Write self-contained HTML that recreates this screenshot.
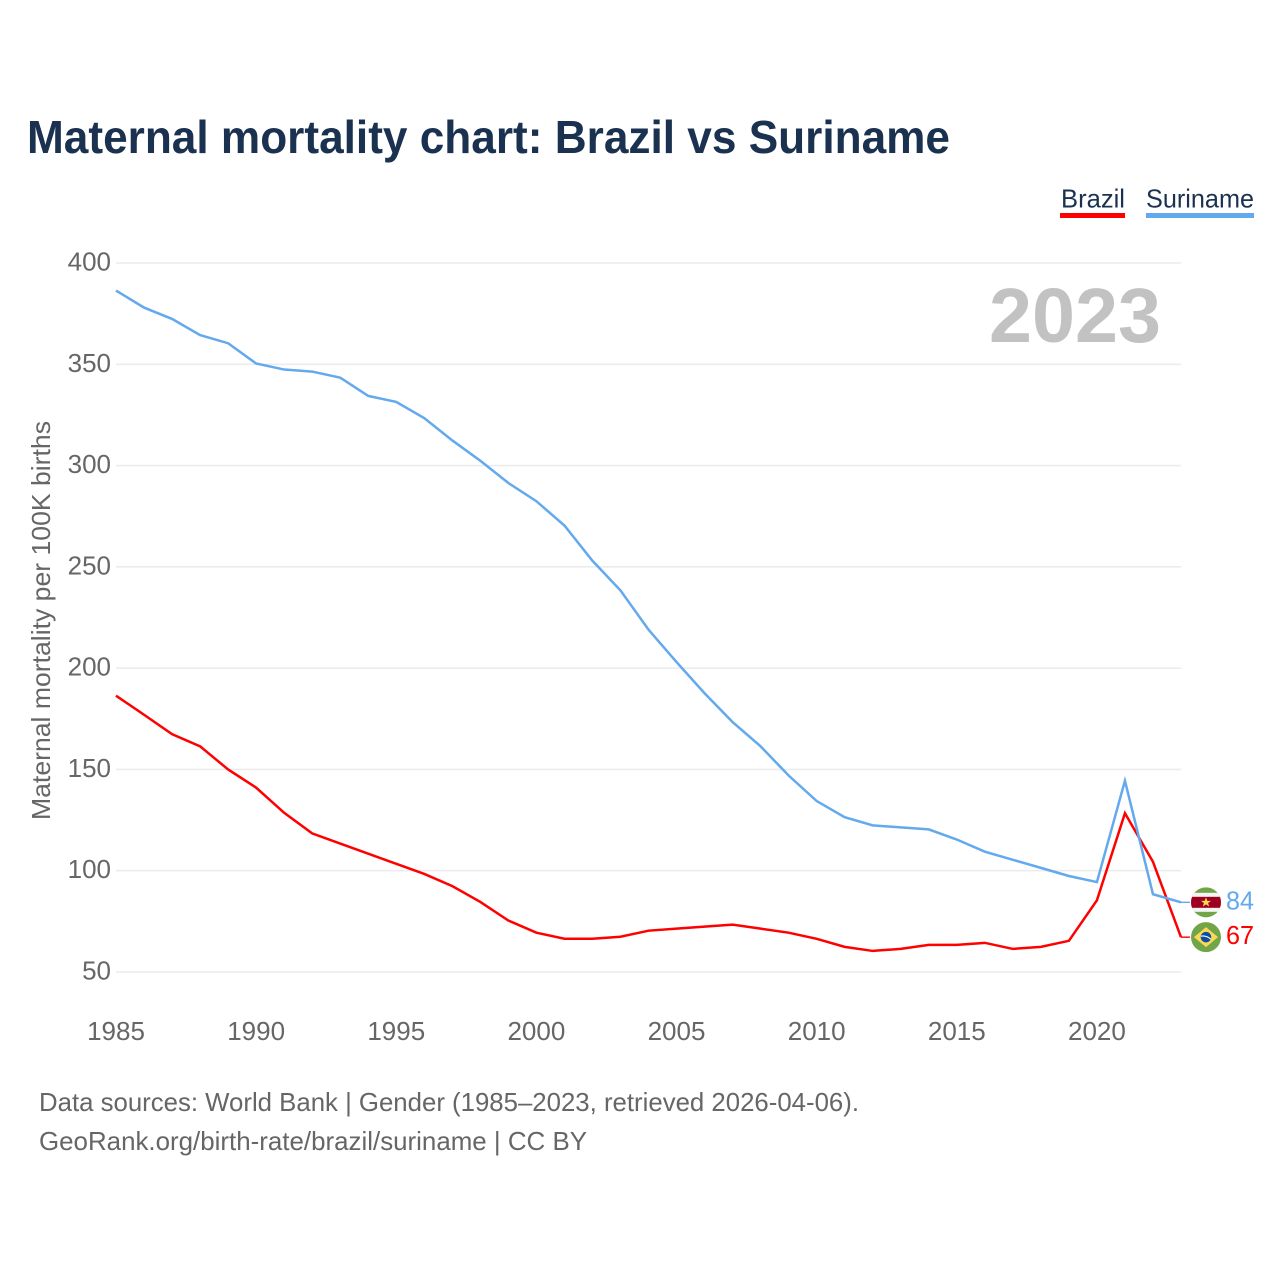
<!DOCTYPE html>
<html lang="en">
<head>
<meta charset="utf-8">
<title>Maternal mortality chart: Brazil vs Suriname</title>
<style>
html,body{margin:0;padding:0;background:#fff;}
svg{display:block;}
text{font-family:"Liberation Sans",sans-serif;}
</style>
</head>
<body>
<svg id="chart" xmlns="http://www.w3.org/2000/svg" width="1280" height="1280" viewBox="0 0 1280 1280">
  <rect x="0" y="0" width="1280" height="1280" fill="#ffffff"/>
  <text x="27" y="153" font-size="46" font-weight="700" fill="#1a3150" textLength="923" lengthAdjust="spacingAndGlyphs">Maternal mortality chart: Brazil vs Suriname</text>

  <g>
    <text x="1061" y="207.5" font-size="26" fill="#1a3150" textLength="64" lengthAdjust="spacingAndGlyphs">Brazil</text>
    <rect x="1060" y="213" width="65" height="5" fill="#ff0000"/>
  </g>
  <g>
    <text x="1146" y="207.5" font-size="26" fill="#1a3150" textLength="108" lengthAdjust="spacingAndGlyphs">Suriname</text>
    <rect x="1146" y="213" width="108" height="5" fill="#63a9ee"/>
  </g>

  <g id="grid"></g>
  <g id="yticks"></g>
  <g id="xticks"></g>

  <text transform="translate(50 820) rotate(-90)" font-size="26" fill="#666666" textLength="399" lengthAdjust="spacingAndGlyphs">Maternal mortality per 100K births</text>
  <text x="989" y="342" font-size="77" font-weight="700" fill="#c2c2c2" textLength="172" lengthAdjust="spacingAndGlyphs">2023</text>

  <g id="series"></g>

  <defs>
    <clipPath id="flag-clip"><circle cx="0" cy="0" r="15"/></clipPath>
  </defs>
  <g id="flag-suriname" clip-path="url(#flag-clip)">
    <rect x="-16" y="-16" width="32" height="32" fill="#72a548"/>
    <rect x="-16" y="-9.5" width="32" height="19" fill="#f4f4f4"/>
    <rect x="-16" y="-5.5" width="32" height="11" fill="#a00020"/>
    <polygon points="0,-5 1.3,-1.5 5,-1.5 2.1,0.7 3.1,4.2 0,2.1 -3.1,4.2 -2.1,0.7 -5,-1.5 -1.3,-1.5" fill="#fcd955"/>
  </g>
  <g id="flag-brazil" clip-path="url(#flag-clip)">
    <rect x="-16" y="-16" width="32" height="32" fill="#72a548"/>
    <polygon points="0,-10 12,0 0,10 -12,0" fill="#fcd955"/>
    <circle cx="0" cy="0" r="5.3" fill="#0b4ea2"/>
    <path d="M-5,-1 Q0,-2 5,2" stroke="#ffffff" stroke-width="1.2" fill="none"/>
  </g>
  <text id="value-suriname" x="1226" font-size="26" fill="#63a9ee" textLength="28" lengthAdjust="spacingAndGlyphs"></text>
  <text id="value-brazil" x="1226" font-size="26" fill="#ff0000" textLength="28" lengthAdjust="spacingAndGlyphs"></text>

  <text x="39" y="1111" font-size="26" fill="#666666" textLength="820" lengthAdjust="spacingAndGlyphs">Data sources: World Bank | Gender (1985–2023, retrieved 2026-04-06).</text>
  <text x="39" y="1150" font-size="26" fill="#666666" textLength="548" lengthAdjust="spacingAndGlyphs">GeoRank.org/birth-rate/brazil/suriname | CC BY</text>
</svg>
<script>
const years = [1985,1986,1987,1988,1989,1990,1991,1992,1993,1994,1995,1996,1997,1998,1999,2000,2001,2002,2003,2004,2005,2006,2007,2008,2009,2010,2011,2012,2013,2014,2015,2016,2017,2018,2019,2020,2021,2022,2023];
const suriname = [386.4,378,372.4,364.4,360.4,350.4,347.4,346.4,343.4,334.4,331.4,323.4,312.4,302.4,291.4,282.4,270.4,253,238.4,219,203,187.6,173.4,161.4,147,134.4,126.4,122.4,121.4,120.4,115.4,109.4,105.4,101.4,97.4,94.4,144.4,88.4,84.4];
const brazil = [186.4,177,167.4,161.4,150,141,128.6,118.4,113.4,108.4,103.4,98.4,92.4,84.6,75.4,69.4,66.4,66.4,67.4,70.4,71.4,72.4,73.4,71.4,69.4,66.4,62.4,60.4,61.4,63.4,63.4,64.4,61.4,62.4,65.4,85.4,128.4,104.4,67.2];
const yTicks = [50,100,150,200,250,300,350,400];
const xTicks = [1985,1990,1995,2000,2005,2010,2015,2020];

const SVG_NS = 'http://www.w3.org/2000/svg';
function xScale(year){ return 116 + (year - 1985) * (1181 - 116) / (2023 - 1985); }
function yScale(v){ return 263 + (400 - v) * (972 - 263) / (400 - 50); }

const gridGroup = document.getElementById('grid');
const yGroup = document.getElementById('yticks');
yTicks.forEach(function(v){
  const line = document.createElementNS(SVG_NS, 'line');
  
  
  line.setAttribute('x1', 116);
  line.setAttribute('x2', 1181);
  line.setAttribute('y1', yScale(v));
  line.setAttribute('y2', yScale(v));
  line.setAttribute('stroke', '#ececec');
  line.setAttribute('stroke-width', '1.6');
  gridGroup.appendChild(line);

  const label = document.createElementNS(SVG_NS, 'text');
  
  
  label.setAttribute('x', 111);
  label.setAttribute('y', yScale(v) + 7.5);
  label.setAttribute('text-anchor', 'end');
  label.setAttribute('font-size', '26');
  label.setAttribute('fill', '#666666');
  label.textContent = String(v);
  yGroup.appendChild(label);
});

const xGroup = document.getElementById('xticks');
xTicks.forEach(function(year){
  const label = document.createElementNS(SVG_NS, 'text');
  
  
  label.setAttribute('x', xScale(year));
  label.setAttribute('y', 1040);
  label.setAttribute('text-anchor', 'middle');
  label.setAttribute('font-size', '26');
  label.setAttribute('fill', '#666666');
  label.textContent = String(year);
  xGroup.appendChild(label);
});

function pathFor(values){
  return values.map(function(v, i){
    return (i ? 'L' : 'M') + xScale(years[i]).toFixed(2) + ' ' + yScale(v).toFixed(2);
  }).join(' ');
}

const seriesGroup = document.getElementById('series');

const brazilLine = document.createElementNS(SVG_NS, 'path');


brazilLine.setAttribute('d', pathFor(brazil));
brazilLine.setAttribute('fill', 'none');
brazilLine.setAttribute('stroke', '#ff0000');
brazilLine.setAttribute('stroke-width', '2.5');
brazilLine.setAttribute('stroke-linejoin', 'miter');
seriesGroup.appendChild(brazilLine);

const surinameLine = document.createElementNS(SVG_NS, 'path');


surinameLine.setAttribute('d', pathFor(suriname));
surinameLine.setAttribute('fill', 'none');
surinameLine.setAttribute('stroke', '#63a9ee');
surinameLine.setAttribute('stroke-width', '2.5');
surinameLine.setAttribute('stroke-linejoin', 'miter');
seriesGroup.appendChild(surinameLine);

const lastSuriname = suriname[suriname.length - 1];
const lastBrazil = brazil[brazil.length - 1];
const endX = xScale(years[years.length - 1]);

const surinameLeader = document.createElementNS(SVG_NS, 'line');


surinameLeader.setAttribute('x1', endX);
surinameLeader.setAttribute('x2', endX + 9);
surinameLeader.setAttribute('y1', yScale(lastSuriname));
surinameLeader.setAttribute('y2', yScale(lastSuriname));
surinameLeader.setAttribute('stroke', '#63a9ee');
surinameLeader.setAttribute('stroke-width', '1.4');
seriesGroup.appendChild(surinameLeader);

const brazilLeader = document.createElementNS(SVG_NS, 'line');


brazilLeader.setAttribute('x1', endX);
brazilLeader.setAttribute('x2', endX + 9);
brazilLeader.setAttribute('y1', yScale(lastBrazil));
brazilLeader.setAttribute('y2', yScale(lastBrazil));
brazilLeader.setAttribute('stroke', '#ff0000');
brazilLeader.setAttribute('stroke-width', '1.4');
seriesGroup.appendChild(brazilLeader);

document.getElementById('flag-suriname').setAttribute('transform', 'translate(1206 ' + yScale(lastSuriname) + ')');
document.getElementById('flag-brazil').setAttribute('transform', 'translate(1206 ' + yScale(lastBrazil) + ')');

const surinameValue = document.getElementById('value-suriname');
surinameValue.setAttribute('y', yScale(lastSuriname) + 7);
surinameValue.textContent = String(Math.round(lastSuriname));

const brazilValue = document.getElementById('value-brazil');
brazilValue.setAttribute('y', yScale(lastBrazil) + 7);
brazilValue.textContent = String(Math.round(lastBrazil));
</script>
</body>
</html>
